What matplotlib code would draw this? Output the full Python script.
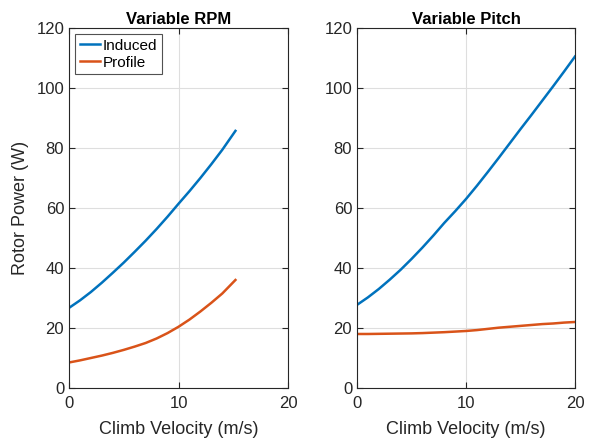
import numpy as np
import matplotlib.pyplot as plt

plt.rcParams['font.family'] = ['Liberation Sans', 'DejaVu Sans']

# Variable RPM
v_rpm = [0, 1, 2, 3, 4, 5, 6, 7, 8, 9, 10, 11, 12, 13, 14, 15.2]
induced_rpm = [26.7, 29.2, 32, 35.1, 38.4, 41.8, 45.4, 49.1, 53, 57.1, 61.4, 65.6,
               70, 74.6, 79.4, 85.7]
profile_rpm = [8.5, 9.2, 10, 10.8, 11.7, 12.7, 13.8, 15.0, 16.5, 18.3, 20.4, 22.8,
               25.5, 28.4, 31.5, 36]

# Variable Pitch
v_pitch = [0, 1, 2, 3, 4, 5, 6, 7, 8, 9, 10, 11, 12, 13, 14, 15, 16, 17, 18, 19, 20]
induced_pitch = [27.7, 30.2, 33, 36.1, 39.4, 43, 46.8, 50.8, 55, 58.9, 63, 67.4,
                 72, 76.7, 81.5, 86.3, 91, 95.8, 100.6, 105.5, 110.5]
profile_pitch = [18, 18, 18.05, 18.1, 18.15, 18.2, 18.3, 18.45, 18.6, 18.8, 19,
                 19.3, 19.7, 20.1, 20.4, 20.7, 21, 21.3, 21.5, 21.8, 22]

blue = '#0072BD'
orange = '#D95319'

fig = plt.figure(figsize=(5.96, 4.42), dpi=100)
ax1 = fig.add_axes([0.1158, 0.1222, 0.3674, 0.8145])
ax2 = fig.add_axes([0.599, 0.1222, 0.3658, 0.8145])

ax1.plot(v_rpm, induced_rpm, color=blue, lw=1.8, label='Induced')
ax1.plot(v_rpm, profile_rpm, color=orange, lw=1.8, label='Profile')
ax2.plot(v_pitch, induced_pitch, color=blue, lw=1.8)
ax2.plot(v_pitch, profile_pitch, color=orange, lw=1.8)

for ax, title in [(ax1, 'Variable RPM'), (ax2, 'Variable Pitch')]:
    ax.set_xlim(0, 20)
    ax.set_ylim(0, 120)
    ax.set_xticks([0, 10, 20])
    ax.set_yticks(range(0, 121, 20))
    ax.grid(True, color='#dedede', lw=0.8)
    ax.set_axisbelow(True)
    ax.tick_params(direction='in', labelsize=12, colors='#262626', length=4,
                   top=True, right=True)
    ax.tick_params(axis='x', pad=6)
    for s in ax.spines.values():
        s.set_color('#262626')
        s.set_linewidth(0.8)
    ax.set_title(title, fontsize=12, fontweight='bold', pad=3)
    ax.set_xlabel('Climb Velocity (m/s)', fontsize=13, color='#262626', labelpad=7)

ax1.set_ylabel('Rotor Power (W)', fontsize=13, color='#262626', labelpad=5)
leg = ax1.legend(loc='upper left', fontsize=11, frameon=True, fancybox=False,
                 edgecolor='#262626', handlelength=1.35, borderpad=0.3,
                 labelspacing=0.2, handletextpad=0.15, borderaxespad=0.4)
leg.get_frame().set_linewidth(0.8)

fig.savefig('out.png', dpi=100)
